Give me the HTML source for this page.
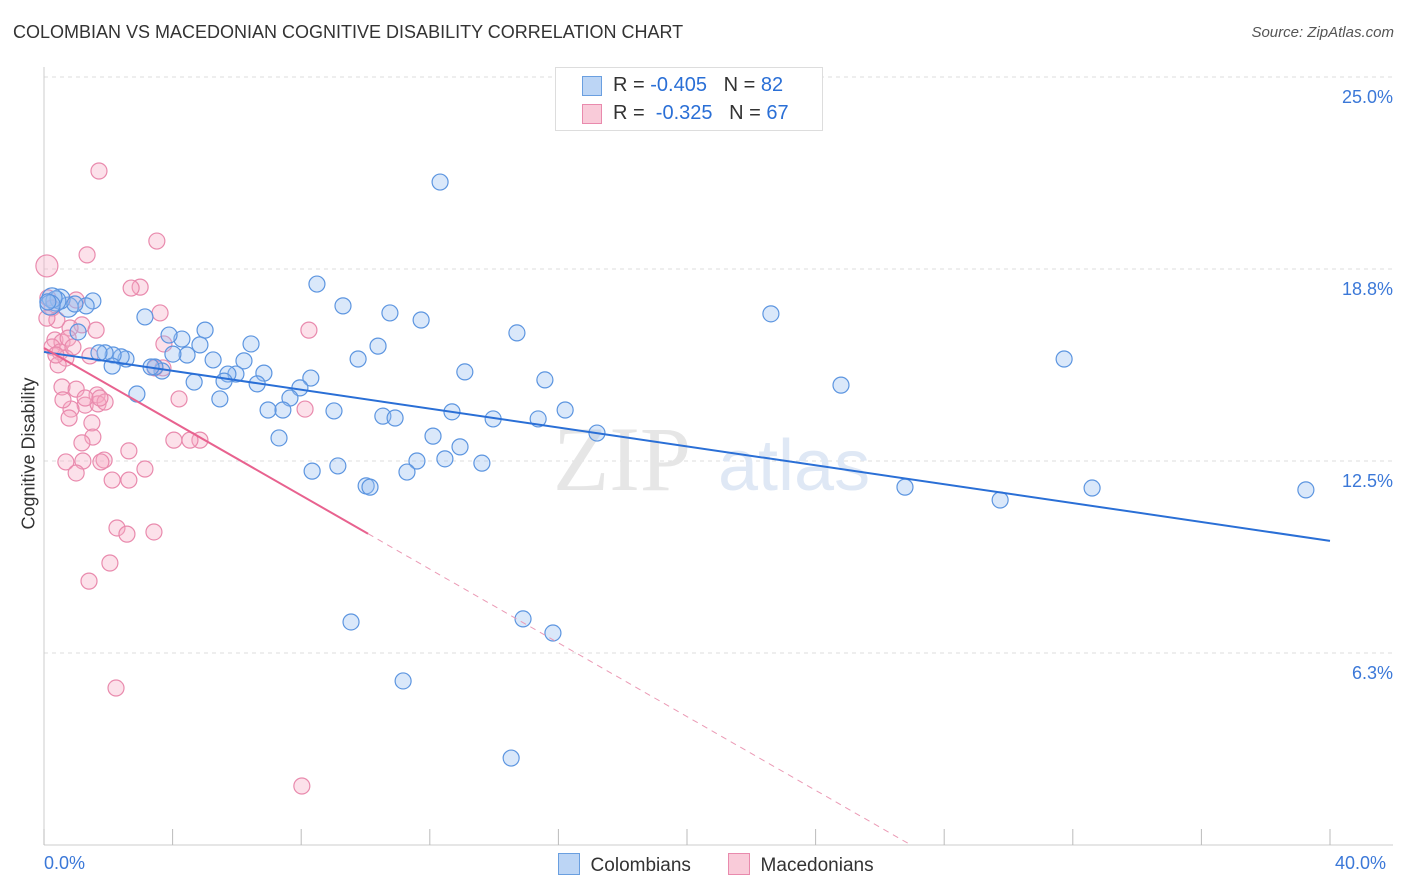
<!DOCTYPE html>
<html><head><meta charset="utf-8"><style>
body{margin:0;background:#fff;font-family:"Liberation Sans",sans-serif;}
#wrap{position:relative;width:1406px;height:892px;overflow:hidden;}
.t{position:absolute;white-space:nowrap;}
</style></head><body>
<div id="wrap">
<div class="t" style="left:13px;top:22px;font-size:18px;color:#333;">COLOMBIAN VS MACEDONIAN COGNITIVE DISABILITY CORRELATION CHART</div>
<div class="t" style="right:12px;top:24px;font-size:15px;color:#555;font-style:italic;">Source: ZipAtlas.com</div>
<svg id="plot" width="1406" height="892" style="position:absolute;left:0;top:0"></svg>
</div>
<script>
const blueX=[12.32,8.49,9.30,10.76,11.73,14.71,22.61,31.73,24.79,26.78,29.74,32.60,39.25,9.55,14.90,15.83,11.17,14.53,10.39,9.77,13.09,15.58,12.69,13.97,15.37,16.21,17.20,12.10,12.94,13.62,12.47,11.60,11.29,10.02,10.14,10.54,10.92,9.02,8.30,7.96,7.65,7.43,6.97,7.31,8.34,9.14,6.84,6.63,6.44,6.22,5.97,5.72,5.60,5.47,5.26,5.01,4.85,4.45,4.29,3.89,4.67,4.01,3.67,3.45,3.33,3.14,2.89,2.55,2.40,2.15,1.90,1.71,2.12,1.52,1.31,1.06,0.75,0.50,0.37,0.25,0.19,0.12,0.96];
const blueY=[21.58,18.26,17.55,17.32,17.09,16.67,17.29,15.82,14.97,11.65,11.23,11.62,11.56,7.26,7.36,6.90,5.34,2.83,16.24,15.82,15.40,15.14,14.10,13.87,13.87,14.16,13.41,13.31,12.96,12.43,12.57,12.50,12.14,11.69,11.65,13.96,13.90,14.13,15.20,14.88,14.55,14.16,14.16,13.25,12.17,12.34,15.36,15.01,16.31,15.76,15.33,15.33,15.10,14.52,15.79,16.76,16.28,15.95,16.47,16.60,15.07,15.98,15.43,15.56,15.56,17.19,14.68,15.82,15.89,15.95,16.02,16.02,15.59,17.71,17.55,16.70,17.51,17.77,17.71,17.81,17.58,17.68,17.61];
const pinkX=[1.71,3.51,1.34,0.09,2.99,2.71,3.61,8.24,0.12,0.25,1.00,1.18,1.62,0.81,0.34,0.56,0.75,0.25,0.50,0.68,0.90,1.43,3.73,3.45,3.70,0.44,0.56,1.00,1.28,0.84,1.65,1.68,1.90,1.28,1.74,4.20,8.12,0.78,1.49,1.52,1.18,4.04,4.85,4.54,2.64,0.68,1.21,1.87,1.77,3.14,1.00,2.12,2.64,2.27,2.58,3.42,2.05,1.40,2.24,8.02,0.37,0.59,0.40,0.09];
const pinkY=[21.94,19.66,19.21,18.85,18.16,18.13,17.32,16.76,17.81,17.48,17.74,16.93,16.76,16.83,16.44,16.37,16.50,16.21,16.05,15.85,16.21,15.92,16.31,15.53,15.53,15.63,14.91,14.84,14.32,14.19,14.65,14.36,14.42,14.55,14.55,14.52,14.19,13.90,13.74,13.28,13.09,13.18,13.18,13.18,12.83,12.47,12.50,12.53,12.47,12.24,12.11,11.88,11.88,10.32,10.12,10.19,9.18,8.59,5.11,1.92,15.95,14.49,17.09,17.15];
const blueTrend=[16.05,9.90];
const pinkTrend=[16.18,-0.6];
const yTicks=[25,18.75,12.5,6.25];
const yTickLabels=["25.0%","18.8%","12.5%","6.3%"];
const xTicks=[0,4,8,12,16,20,24,28,32,36,40];

const X0=44,X1=1330,Y0=845,PXPCT=30.72;
const sx=v=>X0+(v/40)*(X1-X0);
const sy=v=>Y0-v*PXPCT;
const NS="http://www.w3.org/2000/svg";
const svg=document.getElementById('plot');
function mk(tag,attrs,parent){const e=document.createElementNS(NS,tag);for(const k in attrs)e.setAttribute(k,attrs[k]);(parent||svg).appendChild(e);return e;}

// gridlines
yTicks.forEach((v,i)=>{
  const g=mk('line',{x1:X0,x2:1393,y1:sy(v),y2:sy(v),stroke:'#ddd','stroke-dasharray':'4,4'});
  
  
  const t=mk('text',{x:1393,y:sy(v)+26,'text-anchor':'end','font-size':18,fill:'#3b78d8','font-family':'Liberation Sans, sans-serif'});
  t.textContent=yTickLabels[i];
  
  
});
// axes
const ya=mk('line',{x1:X0,x2:X0,y1:67,y2:Y0,stroke:'#ccc'});


const xa=mk('line',{x1:X0,x2:1393,y1:Y0,y2:Y0,stroke:'#ccc'});


xTicks.forEach(v=>{
  const t=mk('line',{x1:sx(v),x2:sx(v),y1:Y0,y2:Y0-16,stroke:'#bbb'});
  
  
});
// watermark
const wm=mk('text',{x:553,y:490,'font-size':92,fill:'#e6e6e6','font-family':'Liberation Serif, serif'});
wm.textContent='ZIP';


const wm2=mk('text',{x:718,y:490,'font-size':72,fill:'#dfe8f5','font-family':'Liberation Sans, sans-serif'});
wm2.textContent='atlas';



// points
pinkX.forEach((x,i)=>{
  const c=mk('circle',{cx:sx(x),cy:sy(pinkY[i]),r:(i===3?11:8),fill:'rgba(246,170,196,0.35)',stroke:'#e98aad','stroke-width':1.2});
  
  
});
blueX.forEach((x,i)=>{
  const big=(i>=76&&i<=80);
  const c=mk('circle',{cx:sx(x),cy:sy(blueY[i]),r:(big?10:8),fill:'rgba(150,190,240,0.35)',stroke:'#5c95e0','stroke-width':1.2});
  
  
});
// trend lines
const bl=mk('line',{x1:sx(0),y1:sy(blueTrend[0]),x2:sx(40),y2:sy(blueTrend[1]),stroke:'#2a6fd6','stroke-width':2});


const pEnd=10.08, pZero=-pinkTrend[0]/pinkTrend[1];
const pl=mk('line',{x1:sx(0),y1:sy(pinkTrend[0]),x2:sx(pEnd),y2:sy(pinkTrend[0]+pinkTrend[1]*pEnd),stroke:'#e8628f','stroke-width':2});


const pd=mk('line',{x1:sx(pEnd),y1:sy(pinkTrend[0]+pinkTrend[1]*pEnd),x2:sx(pZero),y2:sy(0),stroke:'#eb9ab5','stroke-width':1,'stroke-dasharray':'6,5'});


</script>
<div class="t" style="left:-46px;top:444px;font-size:18px;color:#333;transform:rotate(-90deg);width:150px;text-align:center;">Cognitive Disability</div>
<div class="t" style="left:44px;top:853px;font-size:18px;color:#3b78d8;">0.0%</div>
<div class="t" style="left:1335px;top:853px;font-size:18px;color:#3b78d8;">40.0%</div>
<div style="position:absolute;left:555px;top:67px;width:266px;height:62px;border:1px solid #ddd;background:#fff;font-size:20px;">
 <div style="position:absolute;left:26px;top:8px;width:18px;height:18px;background:#bcd5f5;border:1px solid #6a9fe0;"></div>
 <div class="t" style="left:57px;top:6px;color:#333;">R = <span style="color:#2a6fd6">-0.405</span>&nbsp;&nbsp;&nbsp;N = <span style="color:#2a6fd6">82</span></div>
 <div style="position:absolute;left:26px;top:36px;width:18px;height:18px;background:#f9cbd9;border:1px solid #e98aad;"></div>
 <div class="t" style="left:57px;top:34px;color:#333;">R = &nbsp;<span style="color:#2a6fd6">-0.325</span>&nbsp;&nbsp;&nbsp;N = <span style="color:#2a6fd6">67</span></div>
</div>
<div style="position:absolute;left:558px;top:853px;font-size:19px;color:#333;">
 <span style="display:inline-block;width:20px;height:20px;background:#bcd5f5;border:1px solid #6a9fe0;vertical-align:-4px;"></span>&nbsp; Colombians</div>
<div style="position:absolute;left:728px;top:853px;font-size:19px;color:#333;">
 <span style="display:inline-block;width:20px;height:20px;background:#f9cbd9;border:1px solid #e98aad;vertical-align:-4px;"></span>&nbsp; Macedonians</div>
</body></html>
